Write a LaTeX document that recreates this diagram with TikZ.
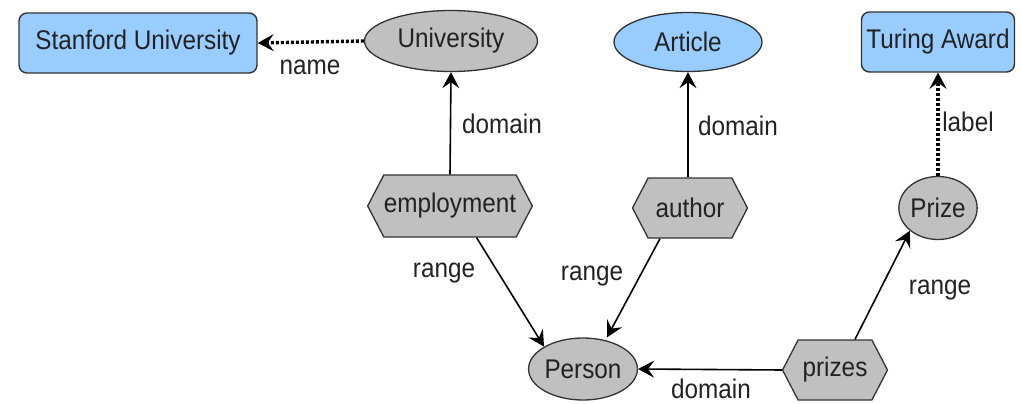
\documentclass[tikz,border=0pt]{standalone}
\usepackage{fontspec}
\setmainfont[FakeStretch=0.9]{Liberation Sans}
\usetikzlibrary{shapes.geometric,shapes.symbols,arrows.meta}
\definecolor{nodeblue}{HTML}{99CCFF}
\definecolor{nodegray}{HTML}{C0C0C0}
\definecolor{edgecol}{HTML}{333333}
\definecolor{txt}{HTML}{222222}
\begin{document}
\begin{tikzpicture}[x=1pt,y=-1pt,
  every node/.style={font=\fontsize{27}{31}\selectfont, text=txt},
  box/.style={draw=edgecol, fill=nodeblue, rounded corners=8pt, line width=1.4pt,
    minimum height=60pt, inner sep=0pt},
  oval/.style={ellipse, draw=edgecol, line width=1.3pt, inner sep=0pt},
  hexa/.style={signal, signal to=west and east, signal pointer angle=125,
    draw=edgecol, fill=nodegray, line width=1.3pt, inner sep=0pt, minimum height=62pt},
  link/.style={-{Stealth[length=16pt,width=17pt,inset=6pt]}, line width=1.6pt, draw=black},
  dotlink/.style={link, line width=3.4pt, dash pattern=on 3pt off 2pt},
  lbl/.style={inner sep=0pt}
]
\useasboundingbox (0,0) rectangle (1021,404);

% classes, literals and properties
\node[box, minimum width=238pt] (stanford) at (138,43) {Stanford University};
\node[oval, fill=nodegray, minimum width=173pt, minimum height=61pt] (univ) at (451,41) {University};
\node[oval, fill=nodeblue, minimum width=148pt, minimum height=59pt] (article) at (688,42) {Article};
\node[box, minimum width=153pt] (turing) at (938,42) {Turing Award};
\node[hexa, minimum width=160pt] (employ) at (450,206) {employment};
\node[hexa, minimum width=115pt, minimum height=60pt] (author) at (690,208) {author};
\node[oval, fill=nodegray, minimum width=66pt, minimum height=63pt] (prize) at (938,208) {Prize};
\node[oval, fill=nodegray, minimum width=106pt, minimum height=62pt] (person) at (583,369) {Person};
\node[hexa, minimum width=105pt, minimum height=60pt] (prizes) at (835,370) {prizes};

% connectors
\draw[dotlink] (univ.west) -- (stanford.east);
\draw[link] (employ.north) -- (univ.south);
\draw[link] (author.north -| article.south) -- (article.south);
\draw[dotlink] (prize.north) -- (turing.south);
\draw[link] (employ.south east) ++(-40,0) coordinate (e1) (e1) -- (person.north west);
\draw[link] ([xshift=-30pt]author.south) -- ([xshift=24pt]person.north);
\draw[link] ([xshift=20pt]prizes.north) -- (prize.south west);
\draw[link] (prizes.west) -- (person.east);

% property labels
\node[lbl] (l1) at (310,67) {name};
\node[lbl] (l2) at (502,124) {domain};
\node[lbl] (l3) at (738,126) {domain};
\node[lbl] (l4) at (968,122) {label};
\node[lbl] (l5) at (444,273) {range};
\node[lbl] (l6) at (592,276) {range};
\node[lbl] (l7) at (940,290) {range};
\node[lbl] (l8) at (711,389) {domain};
\end{tikzpicture}
\end{document}
